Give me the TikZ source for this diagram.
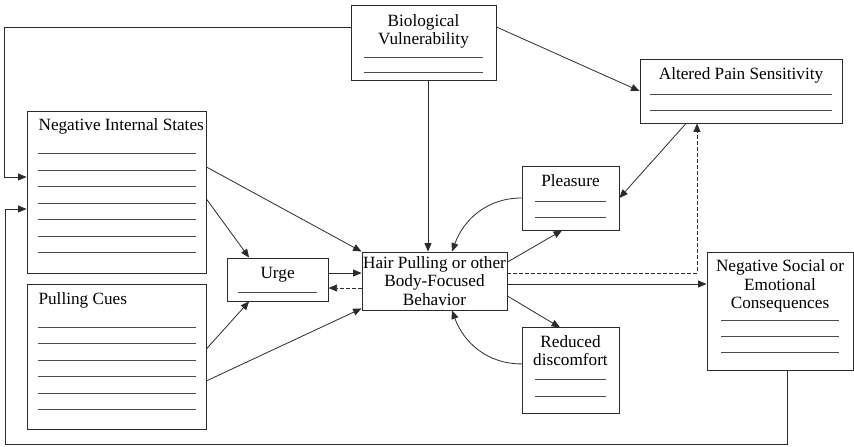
\documentclass[tikz,border=0pt]{standalone}
\usepackage{fontspec}
\setmainfont{Liberation Serif}
\usetikzlibrary{arrows.meta,positioning}
\definecolor{hpdark}{HTML}{2B2B2B}
\definecolor{hpgray}{HTML}{4A4A4A}

\begin{document}
\begin{tikzpicture}[
  x=1pt, y=-1pt,
  font=\fontsize{17.2}{18.5}\selectfont,
  panel/.style={draw=hpdark, line width=0.9pt, inner sep=0pt, align=center},
  flow/.style={-{Triangle[length=8.5pt, width=7pt]}, line width=0.8pt, draw=hpdark},
  opt/.style={flow, dash pattern=on 3.5pt off 2.5pt},
  blank/.style={line width=0.8pt, draw=hpgray},
  head/.style={anchor=base, yshift=-#1, align=center},
  head/.default=20.5pt,
  lefthead/.style={anchor=base west, xshift=8.5pt, yshift=-20pt}
]
  \useasboundingbox (0,0) rectangle (854,447);

  \node[panel, minimum width=145pt, minimum height=75pt,
        label={[head=40pt]north:Biological\\Vulnerability}] (bio) at (423.5,42.5) {};
  \node[panel, minimum width=202pt, minimum height=64pt,
        label={[head]north:Altered Pain Sensitivity}] (aps) at (741,91) {};
  \node[panel, minimum width=179pt, minimum height=162pt,
        label={[lefthead]north west:Negative Internal States}] (nis) at (116.5,192) {};
  \node[panel, minimum width=179pt, minimum height=145pt, below=11pt of nis,
        label={[lefthead]north west:Pulling Cues}] (pc) {};
  \node[panel, minimum width=145pt, minimum height=58pt] (hp) at (434.5,281)
       {Hair Pulling or other\\Body-Focused\\Behavior};
  \node[panel, minimum width=101pt, minimum height=43pt, left=33pt of hp, yshift=1.5pt,
        label={[head]north:Urge}] (urge) {};
  \node[panel, minimum width=97pt, minimum height=64pt,
        label={[head]north:Pleasure}] (pl) at (570.5,198) {};
  \node[panel, minimum width=97pt, minimum height=86pt, below=97pt of pl,
        label={[head=38.5pt]north:Reduced\\discomfort}] (rd) {};
  \node[panel, minimum width=146pt, minimum height=118pt,
        label={[head=57pt]north:Negative Social or\\Emotional\\Consequences}] (ns) at (780,311) {};

  % blank lines to fill in
  \foreach \bx/\first/\gap/\cnt/\hw in {bio/53/15/2/59.5, aps/36/16/2/91, nis/43/16.5/7/79,
      pc/43/16.4/6/79, urge/35/0/1/39.5, pl/36/16/2/35.5, rd/52/17/2/35.5, ns/69/16/3/59}{
    \foreach \k in {1,...,\cnt}{
      \pgfmathsetmacro\dy{\first+(\k-1)*\gap}
      \draw[blank] ([xshift=-\hw pt, yshift=-\dy pt]\bx.north)
                -- ([xshift=\hw pt, yshift=-\dy pt]\bx.north);
    }
  }

  \coordinate (nisin) at ([yshift=15pt]nis.west);
  \coordinate (bottomrail) at (5,444);

  \draw[flow] ([yshift=15.5pt]bio.west) -| ([xshift=-22pt]nisin) -- (nisin);
  \draw[flow] ([xshift=7pt]ns.south) |- (bottomrail) |- ([yshift=-17pt]nis.west);
  \draw[flow] ([xshift=4.5pt]bio.south) -- ([xshift=-6.5pt]hp.north);
  \draw[flow] ([yshift=15.5pt]bio.east) -- (aps.west);
  \draw[flow] ([xshift=-55pt]aps.south) -- (pl.east);
  \draw[flow] (pl.west) to[out=180, in=70] ([xshift=17.5pt]hp.north);
  \draw[flow] ([yshift=19pt]hp.east) -- ([xshift=-8.5pt]pl.south);
  \draw[opt] ([yshift=8pt]hp.east) -| ([xshift=-44pt]aps.south);
  \draw[flow] ([yshift=-3pt]hp.east) -- ([yshift=27pt]ns.west);
  \draw[flow] ([yshift=-15pt]hp.east) -- ([xshift=-10.5pt]rd.north);
  \draw[flow] ([yshift=7pt]rd.west) to[out=180, in=-70] ([xshift=17.5pt]hp.south);
  \draw[flow] ([yshift=6.5pt]urge.east) -- ([yshift=8pt]hp.west);
  \draw[opt] ([yshift=-7pt]hp.west) -- ([yshift=-8.5pt]urge.east);
  \draw[flow] ([yshift=-7pt]nis.east) -- ([xshift=-28.5pt]urge.north);
  \draw[flow] ([yshift=25pt]nis.east) -- (hp.north west);
  \draw[flow] ([yshift=8.5pt]pc.east) -- ([xshift=-28.5pt]urge.south);
  \draw[flow] ([yshift=-23.5pt]pc.east) -- ([yshift=2pt]hp.south west);
\end{tikzpicture}
\end{document}
